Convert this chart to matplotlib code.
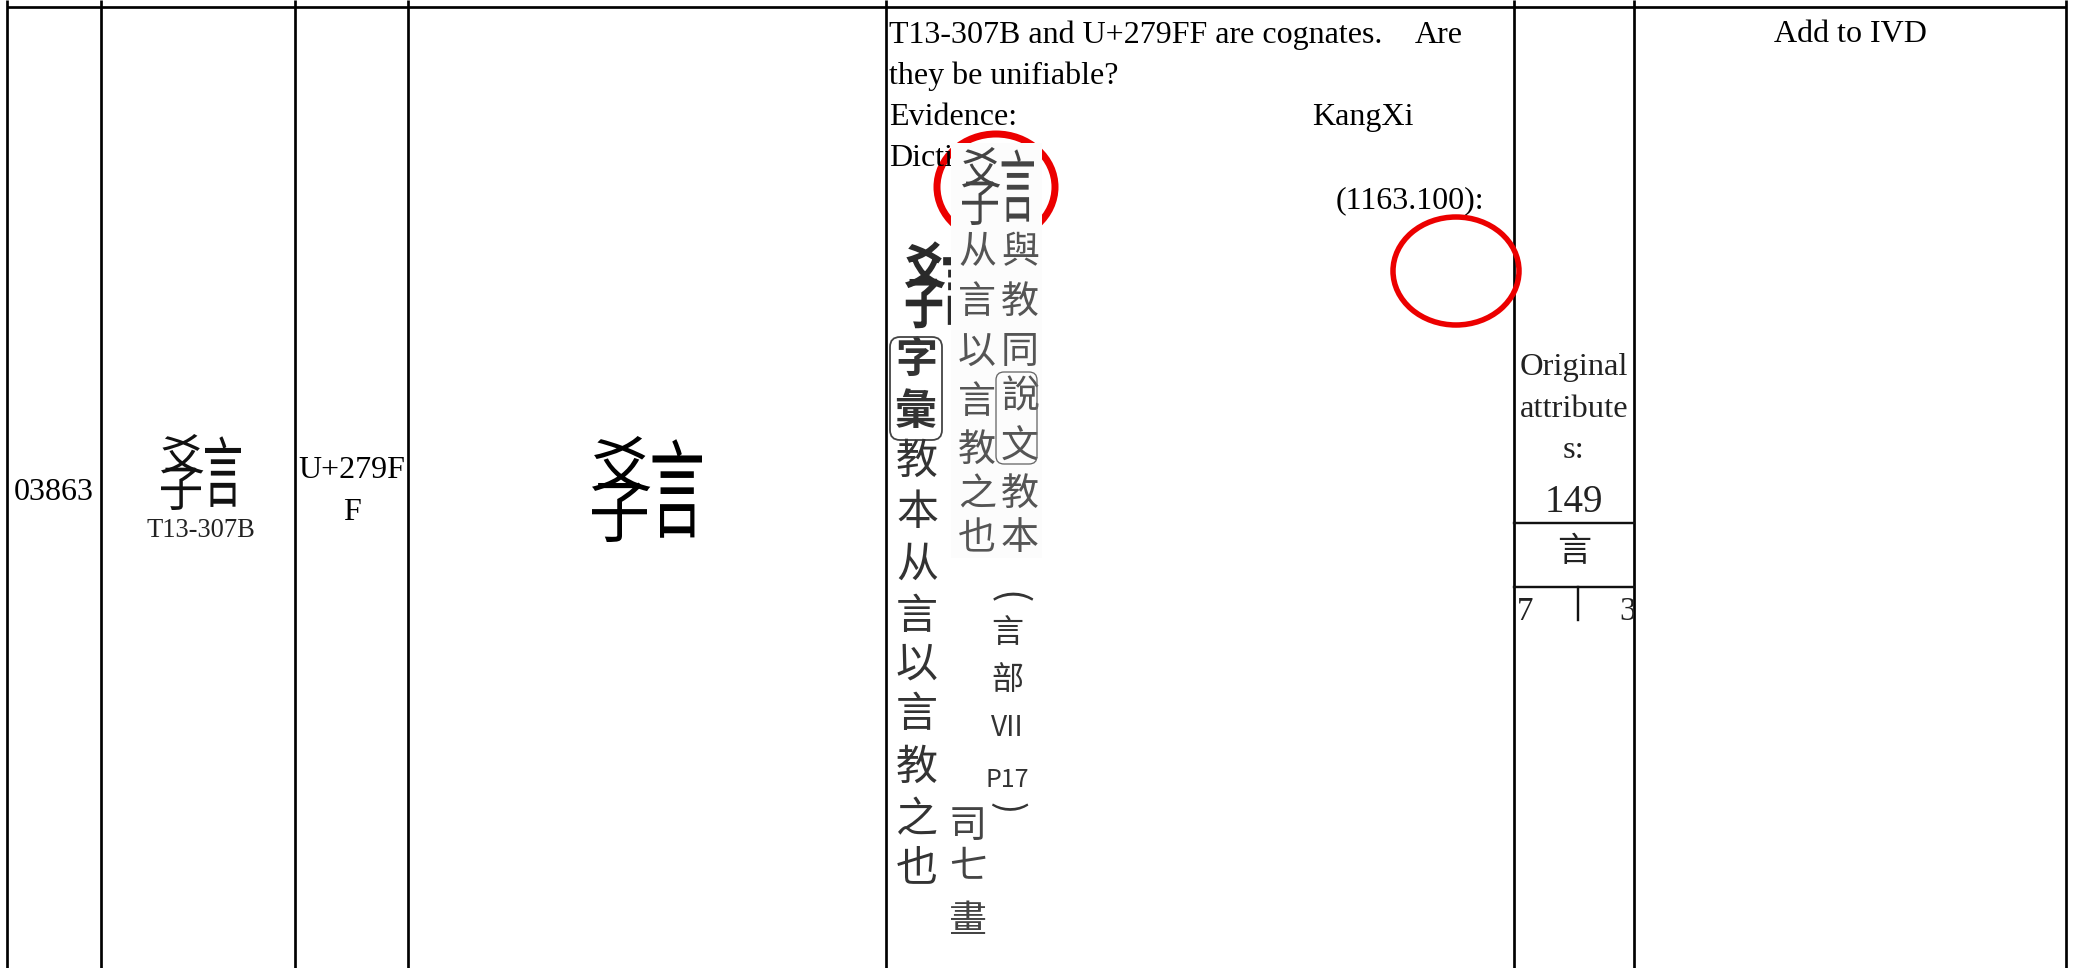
import matplotlib
matplotlib.use("Agg")
import matplotlib.pyplot as plt
from matplotlib.patches import Ellipse, Rectangle, FancyBboxPatch, PathPatch
from matplotlib.font_manager import FontProperties, findfont
from matplotlib.textpath import TextPath
from matplotlib.transforms import Affine2D
from matplotlib.ft2font import FT2Font

W, H = 2082, 968
SERIF = ['Liberation Serif', 'Noto Sans CJK TC']
CJK = ['Noto Sans CJK TC', 'DejaVu Sans']

serial = "03863"
glyph = "\U000279FF"
source_label = "T13-307B"
code_lines = ["U+279F", "F"]
note_lines = [
    ("T13-307B and U+279FF are cognates.", 889, 43),
    ("Are", 1415, 43),
    ("they be unifiable?", 889, 84),
    ("Evidence:", 889, 125),
    ("KangXi", 1312, 125),
    ("Dicti", 889, 166),
    ("(1163.100):", 1336, 208),
]
attr_lines = ["Original", "attribute", "s:"]
radical_no = "149"
radical = "言"
strokes = ["7", "3"]
action = "Add to IVD"
col_edges = [7, 101, 295, 408, 886, 1514, 1634, 2066]

scan_left = [("教", 462), ("本", 513), ("从", 565), ("言", 617), ("以", 665),
             ("言", 715), ("教", 768), ("之", 820), ("也", 868)]
scan_box = [("字", 360), ("彙", 412)]
scan_mid = [("司", 827), ("七", 868), ("畫", 922)]
patch_left = [("从", 253), ("言", 302), ("以", 353), ("言", 402), ("教", 450), ("之", 495), ("也", 539)]
patch_right = [("與", 253), ("教", 302), ("同", 353), ("說", 397), ("文", 447), ("教", 494), ("本", 539)]
hand_notes = [("言", 633, 32), ("部", 680, 32), ("VII", 728, 28), ("P17", 780, 25)]
# components of the ideograph when no installed font holds it: char, x0, x1, y0, y1 (fractions)
glyph_parts = [("爻", 0.00, 0.53, 0.00, 0.52),
               ("子", 0.00, 0.50, 0.44, 1.00),
               ("言", 0.55, 1.00, 0.03, 0.96)]


def pt(px):
    return px * 72 / 100


fig = plt.figure(figsize=(W / 100, H / 100), dpi=100, facecolor='white')
ax = fig.add_axes([0, 0, 1, 1])
ax.set_xlim(0, W)
ax.set_ylim(H, 0)
ax.axis('off')

# table rules
for x in col_edges:
    ax.plot([x, x], [0, H], color='black', lw=pt(2.7), solid_capstyle='butt', zorder=5)
ax.plot([col_edges[0], col_edges[-1]], [6.5, 6.5], color='black', lw=pt(2.7), solid_capstyle='butt', zorder=5)


def serif(x, y, s, px=32, ha='left', color='black', **kw):
    return ax.text(x, y, s, fontsize=pt(px), family=SERIF, ha=ha, va='baseline', color=color, zorder=6, **kw)


def cjk(x, y, s, px, color='#222222', weight='normal', z=2, **kw):
    return ax.text(x, y, s, fontsize=pt(px), family=CJK, ha='center', va='center',
                   color=color, weight=weight, zorder=z, **kw)


def has_glyph(ch):
    path = findfont(FontProperties(family='Noto Sans CJK TC'))
    return FT2Font(path).get_char_index(ord(ch)) != 0


def big_glyph(cx, cy, w, h, color='#111111', z=2, bold=0.0):
    """Draw the ideograph; where no font has it, build it from its components."""
    if has_glyph(glyph):
        cjk(cx, cy, glyph, h, color=color, z=z)
        return
    fp = FontProperties(family='Noto Sans CJK TC')
    left, top = cx - w / 2, cy - h / 2
    for ch, fx0, fx1, fy0, fy1 in glyph_parts:
        tp = TextPath((0, 0), ch, size=100, prop=fp)
        bb = tp.get_extents()
        tr = (Affine2D().translate(-bb.x0, -bb.y0)
              .scale((fx1 - fx0) * w / bb.width, -(fy1 - fy0) * h / bb.height)
              .translate(left + fx0 * w, top + fy1 * h))
        ax.add_patch(PathPatch(tp.transformed(tr), fc=color, ec=color if bold else 'none',
                               lw=pt(bold), zorder=z))


# first columns
serif((col_edges[0] + col_edges[1]) / 2, 500, serial, ha='center')
big_glyph(201, 472, 80, 76)
serif(201, 537, source_label, px=26.5, ha='center', color='#222222')
serif(352, 478, code_lines[0], ha='center')
serif(352, 520, code_lines[1], ha='center')
big_glyph(647, 489, 110, 106, color='black')

# note text
for s, x, y in note_lines:
    t = serif(x, y, s)
    t.set_zorder(1.5)

# red circles
ax.add_patch(Ellipse((996, 187), 118, 106, fc='none', ec='#ec0000', lw=pt(7), zorder=1))
ax.add_patch(Ellipse((1456, 271), 126, 108, fc='none', ec='#ec0000', lw=pt(5.5), zorder=7))

# scanned dictionary entry
big_glyph(941, 285, 68, 84, color='#2a2a2a', bold=2.5)
for ch, y in scan_box:
    cjk(916, y, ch, 42, color='#333333', weight='bold')
ax.add_patch(FancyBboxPatch((890, 337), 52, 103, boxstyle='round,pad=0,rounding_size=10',
                            fc='none', ec='#444444', lw=pt(1.8), zorder=2))
for ch, y in scan_left:
    cjk(917, y, ch, 42, color='#333333')
for ch, y in scan_mid:
    cjk(968, y, ch, 38, color='#444444')

# pasted clipping
ax.add_patch(Rectangle((951, 143), 91, 415, fc='#fcfcfc', ec='none', zorder=3))
big_glyph(998, 186, 72, 78, color='#444444', z=4)
for ch, y in patch_left:
    cjk(977, y, ch, 38, color='#555555', z=4)
for ch, y in patch_right:
    cjk(1020, y, ch, 38, color='#555555', z=4)
ax.add_patch(FancyBboxPatch((996, 372), 41, 92, boxstyle='round,pad=0,rounding_size=8',
                            fc='none', ec='#666666', lw=pt(1.3), zorder=4))

# handwritten margin note
cjk(1007, 598, "(", 40, color='#333333', rotation=-90)
for s, y, px in hand_notes:
    cjk(1007, y, s, px, color='#333333')
cjk(1007, 808, ")", 36, color='#333333', rotation=-90)

# attributes cell
cx = (col_edges[5] + col_edges[6]) / 2
for s, y in zip(attr_lines, [375, 417, 458]):
    serif(cx, y, s, px=32.5, ha='center', color='#222222')
serif(cx, 512, radical_no, px=39, ha='center', color='#222222')
ax.plot([col_edges[5], col_edges[6]], [523, 523], color='#111111', lw=pt(2.4), zorder=5)
cjk(cx, 552, radical, 34, color='#222222', z=6)
ax.plot([col_edges[5], col_edges[6]], [587, 587], color='#111111', lw=pt(2.4), zorder=5)
ax.plot([1578, 1578], [587, 620], color='#111111', lw=pt(2.4), zorder=5)
serif(1517, 620, strokes[0], px=33, color='#222222')
three = serif(1619, 620, strokes[1], px=33, color='#222222')
three.set_clip_path(Rectangle((1500, 580), 134, 60, transform=ax.transData))
three.set_clip_on(True)

# last column
serif(1850, 42, action, px=32, ha='center')

fig.savefig('out.png', dpi=100, facecolor='white')
